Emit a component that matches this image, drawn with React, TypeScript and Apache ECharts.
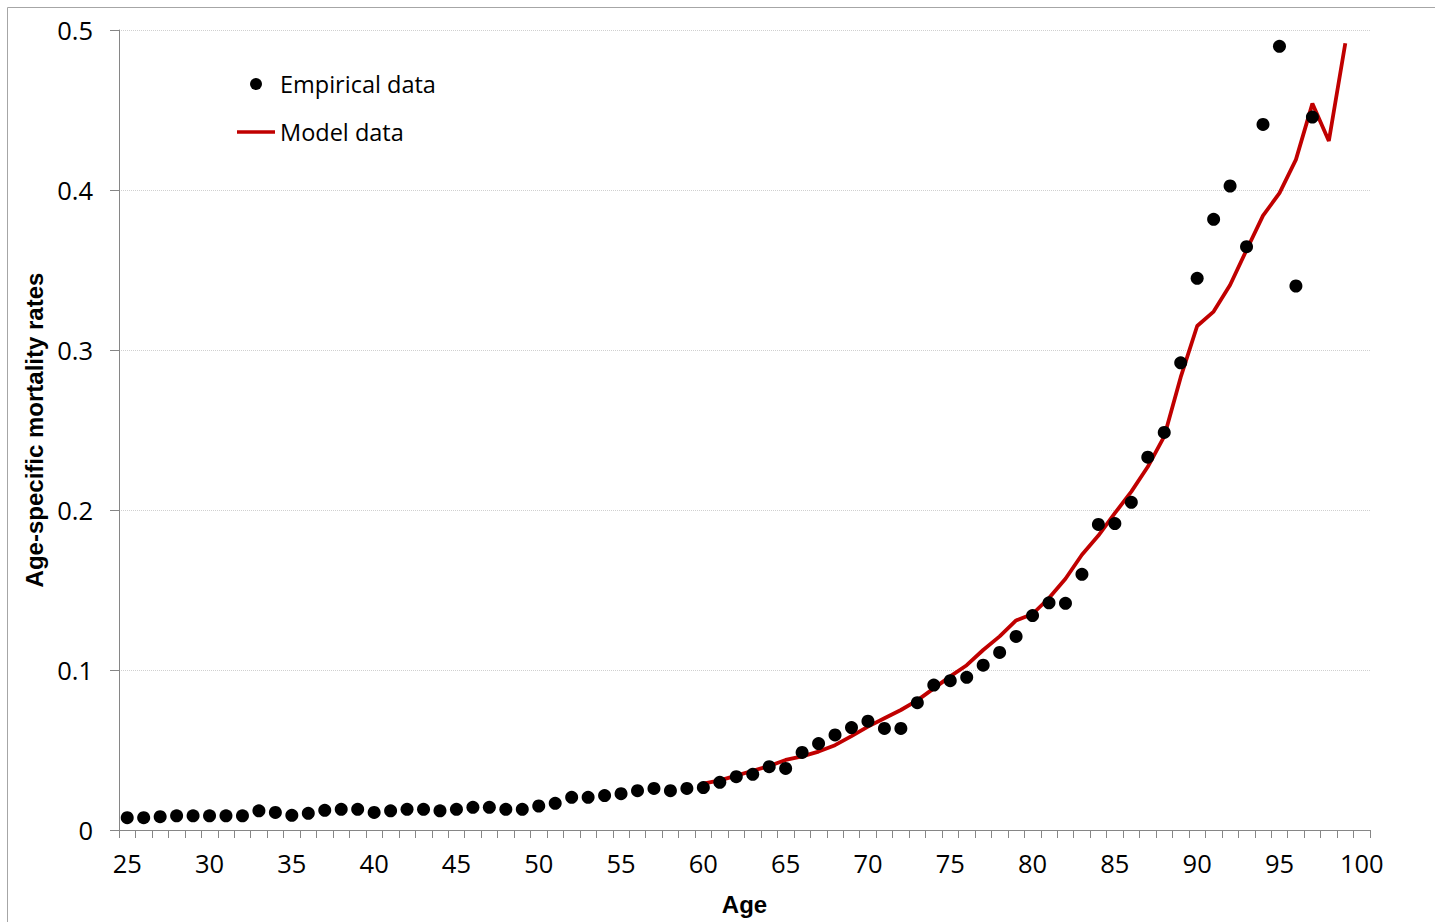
import React, { useEffect, useRef } from "react";
import * as echarts from "echarts";

const ages: string[] = [
  "25","26","27","28","29","30","31","32","33","34","35","36","37","38","39",
  "40","41","42","43","44","45","46","47","48","49","50","51","52","53","54",
  "55","56","57","58","59","60","61","62","63","64","65","66","67","68","69",
  "70","71","72","73","74","75","76","77","78","79","80","81","82","83","84",
  "85","86","87","88","89","90","91","92","93","94","95","96","97","98","99","100",
];

// Empirical data, ages 25..97
const empiricalStartAge = 25;
const empirical: number[] = [
  0.0077, 0.0077, 0.0083, 0.0089, 0.0089, 0.0089, 0.0089, 0.0089, 0.012, 0.011,
  0.0092, 0.0104, 0.0123, 0.0129, 0.0129, 0.011, 0.012, 0.0129, 0.0129, 0.012,
  0.0129, 0.0142, 0.0142, 0.0129, 0.0129, 0.015, 0.0167, 0.0204, 0.0204, 0.0215,
  0.0227, 0.0246, 0.026, 0.0246, 0.026, 0.0265, 0.0298, 0.0333, 0.0348, 0.0396,
  0.0385, 0.0485, 0.054, 0.0594, 0.064, 0.068, 0.0635, 0.0635, 0.0796, 0.0906,
  0.0933, 0.0954, 0.103, 0.111, 0.121, 0.134, 0.142, 0.1417, 0.1598, 0.191,
  0.1915, 0.2048, 0.233, 0.2485, 0.292, 0.3448, 0.3817, 0.4025, 0.3646, 0.441,
  0.4898, 0.34, 0.4456,
];

// Model data, ages 60..99
const modelStartAge = 60;
const model: number[] = [
  0.029, 0.031, 0.034, 0.037, 0.04, 0.0438, 0.046, 0.049, 0.053, 0.0587,
  0.0646, 0.0698, 0.075, 0.081, 0.0885, 0.096, 0.103, 0.1125, 0.121, 0.131,
  0.135, 0.145, 0.157, 0.172, 0.184, 0.198, 0.2115, 0.227, 0.246, 0.283,
  0.315, 0.324, 0.3406, 0.3625, 0.384, 0.398, 0.419, 0.454, 0.4306, 0.4917,
];

const yTicks = { min: 0, max: 0.5, interval: 0.1 };

const FONT = "'Open Sans', sans-serif";
const BOLD_FONT = "'Liberation Sans', Arial, sans-serif";

export default function App() {
  const ref = useRef<HTMLDivElement>(null);

  useEffect(() => {
    document.body.style.margin = "0";
    if (!ref.current) return;
    const chart = echarts.init(ref.current, null, { renderer: "svg" });

    const empiricalData = empirical.map((v, i) => [String(empiricalStartAge + i), v]);
    const modelData = model.map((v, i) => [String(modelStartAge + i), v]);

    chart.setOption({
      animation: false,
      backgroundColor: "#ffffff",
      grid: { left: 119, right: 65, top: 30, bottom: 92, containLabel: false },
      graphic: [
        {
          type: "rect",
          shape: { x: 7.5, y: 7.5, width: 1500, height: 1000 },
          style: { fill: "none", stroke: "#a6a6a6", lineWidth: 1 },
          silent: true,
        },
      ],
      legend: {
        orient: "vertical",
        left: 232,
        top: 67,
        itemWidth: 38,
        itemHeight: 12,
        itemGap: 24,
        textStyle: { fontFamily: FONT, fontSize: 23.5, color: "#000" },
        data: [
          {
            name: "Empirical data",
            icon: "path://M0 0M38 12M13 6A6 6 0 1 1 25 6A6 6 0 1 1 13 6Z",
            itemStyle: { color: "#000000", opacity: 1 },
          },
          {
            name: "Model data",
            icon: "path://M0 0M38 12M0 4.2L38 4.2L38 7.8L0 7.8Z",
            itemStyle: { color: "#c00000", borderWidth: 0 },
          },
        ],
      },
      xAxis: {
        type: "category",
        data: ages,
        boundaryGap: true,
        name: "Age",
        nameLocation: "middle",
        nameGap: 62,
        nameTextStyle: { fontFamily: BOLD_FONT, fontWeight: "bold", fontSize: 24, color: "#000" },
        axisLine: { lineStyle: { color: "#868686", width: 1 } },
        axisTick: { show: true, interval: 0, alignWithLabel: false, length: 8, lineStyle: { color: "#868686" } },
        axisLabel: { interval: 4, margin: 20, fontFamily: FONT, fontSize: 25.5, color: "#000" },
        splitLine: { show: false },
      },
      yAxis: {
        type: "value",
        min: yTicks.min,
        max: yTicks.max,
        interval: yTicks.interval,
        name: "Age-specific mortality rates",
        nameLocation: "middle",
        nameGap: 70,
        nameTextStyle: { fontFamily: BOLD_FONT, fontWeight: "bold", fontSize: 24, color: "#000" },
        axisLine: { show: true, lineStyle: { color: "#868686", width: 1 } },
        axisTick: { show: true, length: 9, lineStyle: { color: "#868686" } },
        axisLabel: { margin: 26, fontFamily: FONT, fontSize: 25.5, color: "#000" },
        splitLine: { show: true, lineStyle: { color: "#d0d0d0", type: "dotted", width: 1 } },
      },
      series: [
        {
          name: "Model data",
          type: "line",
          data: modelData,
          symbol: "none",
          showSymbol: false,
          connectNulls: false,
          lineStyle: { color: "#c00000", width: 3.8 },
          itemStyle: { color: "#c00000" },
          z: 2,
        },
        {
          name: "Empirical data",
          type: "scatter",
          data: empiricalData,
          symbol: "circle",
          symbolSize: 13,
          itemStyle: { color: "#000000", opacity: 1 },
          z: 3,
        },
      ],
    });

    return () => chart.dispose();
  }, []);

  return <div ref={ref} style={{ width: 1435, height: 922 }} />;
}
